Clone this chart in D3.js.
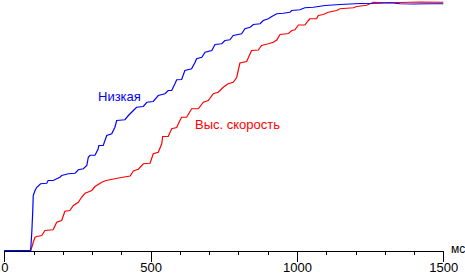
<!DOCTYPE html>
<html>
<head>
<meta charset="utf-8">
<script src="https://cdn.jsdelivr.net/npm/d3@7"></script>
<style>
  body { margin: 0; background: #fff; }
  svg { display: block; font-family: "Liberation Sans", Arial, sans-serif; }
  .axis path, .axis line { stroke: #000; shape-rendering: crispEdges; }
  .axis text { font-size: 13px; fill: #000; }
</style>
</head>
<body>
<div id="chart"></div>
<script>
// time in ms, response in % of full scale
var lowTime = [0, 90, 94, 97, 99, 105, 111, 124, 145, 150, 167, 190, 196, 219, 242, 253, 270, 282, 287, 293, 310, 321, 323, 338, 350, 367, 378, 384, 412, 424, 441, 452, 475, 487, 509, 526, 549, 560, 572, 583, 589, 606, 617, 640, 652, 657, 675, 686, 709, 720, 743, 754, 771, 782, 811, 822, 840, 851, 874, 885, 902, 914, 931, 953, 976, 982, 1010, 1027, 1056, 1073, 1096, 1147, 1215, 1280, 1318, 1352, 1400, 1450, 1500];
var lowValue = [0, 0, 7.3, 15.3, 22, 24, 25.3, 26.7, 26.9, 28, 28, 29.3, 30, 30.7, 30.9, 32.3, 32.7, 34, 37.3, 38.1, 38.1, 40.7, 42, 42, 46, 46.7, 49.3, 52, 52.3, 54, 56, 57.3, 57.6, 59.3, 59.6, 62, 62.7, 64, 64, 66.7, 68.3, 68.4, 72, 72.7, 75.3, 76.7, 77.3, 79.3, 80, 82.4, 82.7, 84, 84.3, 86, 86.7, 88.7, 89.3, 90.4, 90.7, 92, 92.7, 93.6, 94.7, 94.9, 95.3, 96, 96.3, 97.1, 97.3, 97.6, 98, 98.4, 98.8, 98.9, 99.1, 98.7, 98.6, 98.7, 98.7];

var fastTime = [0, 90, 94, 99, 105, 111, 128, 139, 167, 179, 196, 207, 224, 236, 253, 264, 276, 299, 310, 333, 348, 395, 430, 441, 458, 475, 498, 509, 526, 538, 541, 560, 572, 589, 600, 606, 623, 640, 663, 680, 697, 714, 731, 748, 765, 782, 794, 805, 828, 840, 845, 868, 879, 902, 919, 931, 942, 971, 982, 993, 1005, 1027, 1039, 1044, 1067, 1073, 1090, 1107, 1136, 1147, 1193, 1204, 1238, 1261, 1300, 1352, 1420, 1500];
var fastValue = [0, 0, 1.3, 3.3, 5.3, 5.6, 6, 8, 8.3, 11.3, 12, 15.7, 16, 18, 19.3, 21.3, 22.9, 24, 25.6, 27.3, 28, 29.1, 29.8, 31.8, 32.5, 34.7, 34.9, 38.7, 39.3, 42.7, 45.6, 45.6, 48.7, 49.2, 52, 53.3, 53.3, 56.7, 56.7, 59.3, 60, 62.7, 63.3, 65.3, 66.7, 67.3, 69.2, 75, 75.6, 78.7, 80, 80.2, 82, 82.7, 83.3, 84.2, 86.4, 86.8, 88, 88.3, 90.2, 90.2, 92, 92.7, 92.7, 94, 94.4, 95.3, 96, 96.7, 97.1, 97.6, 98.1, 99.3, 99.1, 99.2, 99.4, 99.3];

var majorTicks = [0, 500, 1000, 1500];
var seriesNames = ["Низкая", "Выс. скорость"];
var unitLabel = "мс";

var width = 465, height = 276;

var x = d3.scaleLinear().domain([0, 1500]).range([4.3, 443.3]);
var y = d3.scaleLinear().domain([0, 100]).range([250.5, 0.5]);

var svg = d3.select("#chart").append("svg")
    .attr("width", width)
    .attr("height", height);

// minor ticks every 100 ms
svg.append("g")
    .attr("class", "axis")
    .attr("transform", "translate(0,250.5)")
    .call(d3.axisBottom(x).tickValues(d3.range(0, 1501, 100)).tickSize(4).tickSizeOuter(0).tickFormat(""));

// major ticks with labels
svg.append("g")
    .attr("class", "axis")
    .attr("transform", "translate(0,250.5)")
    .call(d3.axisBottom(x).tickValues(majorTicks).tickSize(11).tickSizeOuter(0).tickPadding(1).tickFormat(d3.format("d")))
  .call(function(g) { g.select(".domain").remove(); });

svg.append("text")
    .attr("x", 451)
    .attr("y", 253)
    .attr("font-size", "12px")
    .text(unitLabel);

var line = d3.line()
    .x(function(d) { return x(d[0]); })
    .y(function(d) { return y(d[1]); });

svg.append("path")
    .datum(d3.zip(fastTime, fastValue))
    .attr("fill", "none")
    .attr("stroke", "#ff0000")
    .attr("stroke-width", 1.2)
    .attr("d", line);

svg.append("path")
    .datum(d3.zip(lowTime, lowValue))
    .attr("fill", "none")
    .attr("stroke", "#0000ff")
    .attr("stroke-width", 1.2)
    .attr("d", line);

svg.append("text")
    .attr("x", 98)
    .attr("y", 100.5)
    .attr("font-size", "13px")
    .attr("fill", "#0000ff")
    .text(seriesNames[0]);

svg.append("text")
    .attr("x", 195)
    .attr("y", 129)
    .attr("font-size", "13px")
    .attr("fill", "#ff0000")
    .text(seriesNames[1]);
</script>
</body>
</html>
